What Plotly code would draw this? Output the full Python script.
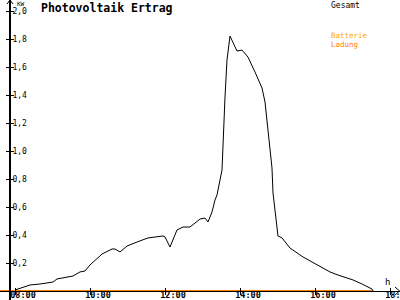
import plotly.graph_objects as go

# Data (hours, kW)
gesamt_t = [8.0, 8.40, 8.667, 9.013, 9.12, 9.547, 9.733, 9.867, 10.0, 10.32, 10.587, 10.667,
            10.8, 10.987, 11.253, 11.547, 11.947, 12.0, 12.133, 12.32, 12.48, 12.667, 12.933,
            13.067, 13.147, 13.253, 13.333, 13.387, 13.467, 13.52, 13.6, 13.653, 13.733, 13.92,
            14.053, 14.213, 14.4, 14.587, 14.667, 14.747, 14.8, 14.853, 14.88, 14.96, 15.013,
            15.12, 15.333, 15.68, 16.08, 16.4, 16.613, 16.8, 17.013, 17.253, 17.52, 17.55]
gesamt_v = [0.007, 0.043, 0.05, 0.064, 0.086, 0.107, 0.136, 0.143, 0.186, 0.264, 0.30, 0.30,
            0.279, 0.321, 0.35, 0.379, 0.393, 0.386, 0.314, 0.436, 0.457, 0.457, 0.514,
            0.521, 0.493, 0.564, 0.65, 0.686, 0.793, 0.864, 1.386, 1.65, 1.821, 1.714,
            1.721, 1.671, 1.564, 1.45, 1.35, 1.15, 1.007, 0.879, 0.70, 0.507, 0.393,
            0.379, 0.307, 0.243, 0.186, 0.136, 0.114, 0.10, 0.079, 0.05, 0.014, 0.0]
ladung_t = [7.6, 17.52]
ladung_v = [0.0, 0.0]

y_ticks = [0.2, 0.4, 0.6, 0.8, 1.0, 1.2, 1.4, 1.6, 1.8, 2.0]
y_labels = ["0,2", "0,4", "0,6", "0,8", "1,0", "1,2", "1,4", "1,6", "1,8", "2,0"]
x_ticks = [8, 10, 12, 14, 16, 18]
x_labels = ["08:00", "10:00", "12:00", "14:00", "16:00", "18:00"]

W, H = 400, 300
FONT = "DejaVu Sans Mono"
XR = [7.6, 18.2667]
YR = [-9 / 140, 291 / 140]

def px(x):
    return x / W

def py(y):
    return 1 - y / H

fig = go.Figure()
fig.add_trace(go.Scatter(x=gesamt_t, y=gesamt_v, mode="lines",
                         line=dict(color="black", width=1), showlegend=False))
fig.add_trace(go.Scatter(x=ladung_t, y=ladung_v, mode="lines",
                         line=dict(color="#ff8000", width=2), showlegend=False))
# helper empty traces so overlay axes are drawn
fig.add_trace(go.Scatter(x=[None], y=[None], xaxis="x2", yaxis="y2", showlegend=False))
fig.add_trace(go.Scatter(x=[None], y=[None], xaxis="x3", yaxis="y", showlegend=False))

axis_common = dict(showgrid=False, zeroline=False, tickcolor="black", tickwidth=1, ticklen=3,
                   automargin=False)

fig.update_layout(
    width=W, height=H,
    margin=dict(l=0, r=0, t=0, b=0, autoexpand=False),
    paper_bgcolor="white", plot_bgcolor="white",
    xaxis=dict(range=XR, domain=[0, 1], anchor="free", position=9 / H,
               showline=True, linecolor="black", linewidth=1,
               ticks="inside", tickvals=x_ticks, showticklabels=False, **axis_common),
    xaxis2=dict(range=XR, domain=[0, 1], anchor="free", position=9 / H, overlaying="x",
                ticks="outside", tickvals=x_ticks, showticklabels=False, showline=False,
                **axis_common),
    xaxis3=dict(range=XR, domain=[0, 1], anchor="free", position=11.5 / H, overlaying="x",
                ticks="", tickvals=x_ticks, ticktext=[f"<b>{t}</b>" for t in x_labels],
                showline=False,
                ticklabelshift=8, ticklabelstandoff=0, ticklabeloverflow="allow",
                tickfont=dict(family=FONT, size=8.5, color="black"),
                showgrid=False, zeroline=False, automargin=False),
    yaxis=dict(range=YR, domain=[0, 1], anchor="free", position=10 / W,
               showline=True, linecolor="black", linewidth=2,
               ticks="outside", tickvals=y_ticks, ticktext=y_labels,
               ticklabelposition="inside", ticklabeloverflow="allow",
               tickfont=dict(family=FONT, size=8, color="black"), **axis_common),
    yaxis2=dict(range=YR, domain=[0, 1], anchor="free", position=10 / W, overlaying="y",
                ticks="inside", tickvals=y_ticks, showticklabels=False, showline=False,
                **axis_common),
    showlegend=False,
)

def seg(x0, y0, x1, y1, color="black", width=1):
    fig.add_shape(type="line", xref="paper", yref="paper",
                  x0=px(x0), y0=py(y0), x1=px(x1), y1=py(y1),
                  line=dict(color=color, width=width))

# arrowheads
seg(7, 4, 10, 0)
seg(13, 4, 10, 0)
seg(395, 287, 399.5, 291)
seg(395, 295, 399.5, 291)

def txt(text, x, y, size, color="black", xanchor="left", bold=False):
    fig.add_annotation(text=f"<b>{text}</b>" if bold else text, xref="paper", yref="paper",
                       x=px(x), y=py(y), xanchor=xanchor, yanchor="middle", showarrow=False,
                       font=dict(family=FONT, size=size, color=color))

txt("Photovoltaik Ertrag", 39, 8, 11.5, bold=True)
txt("KW", 15, 4, 6)
txt("Gesamt", 329, 5, 8)
txt("Batterie", 329, 35.5, 7.5, color="#ffaa00")
txt("Ladung", 329, 44.5, 7.5, color="#ff8000")
txt("h", 387, 282, 9, xanchor="center")

fig.write_html("out.html")
